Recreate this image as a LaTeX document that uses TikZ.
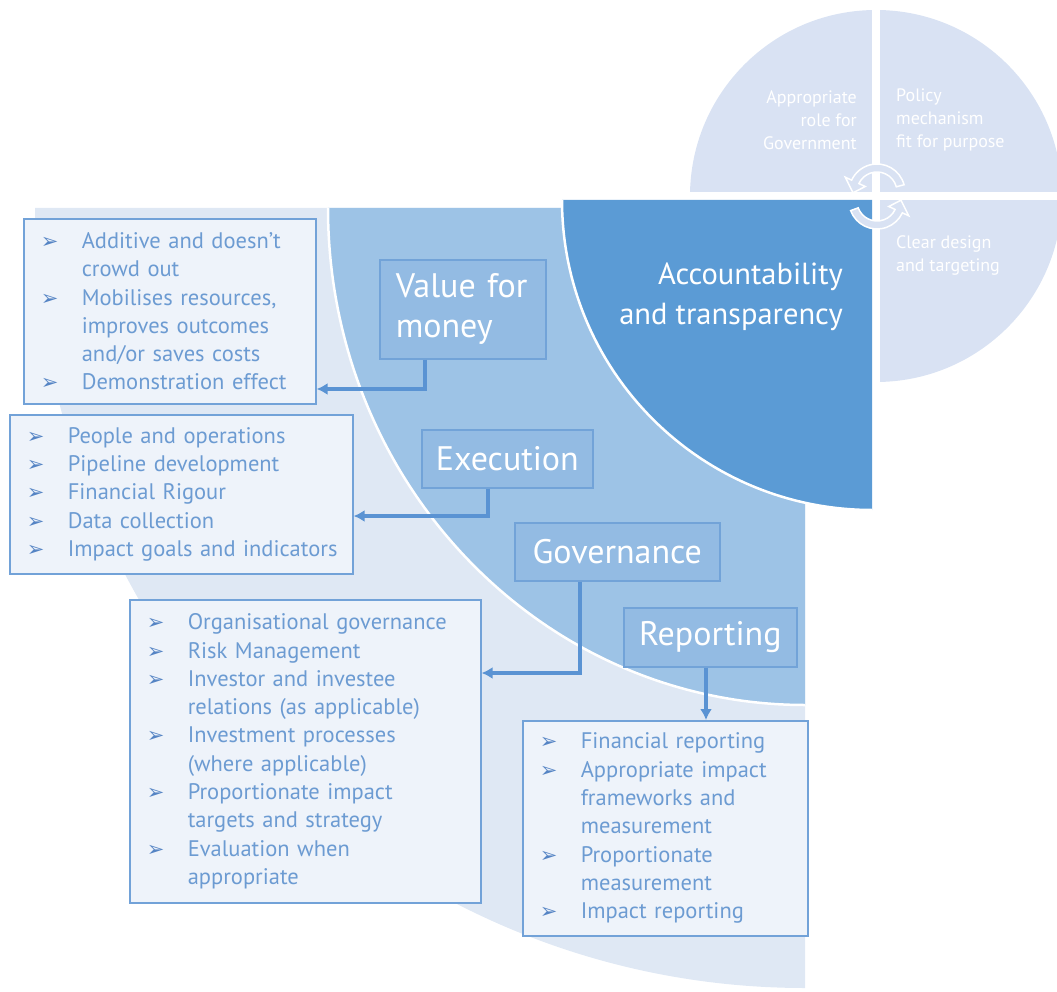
\documentclass[tikz,border=0pt]{standalone}
\usepackage{fontspec}
\setmainfont{PT Sans}
\newfontfamily\dejavu{DejaVu Sans}
\usetikzlibrary{arrows.meta,calc}
\definecolor{lightreg}{HTML}{DFE8F4}
\definecolor{midreg}{HTML}{9DC3E6}
\definecolor{darkreg}{HTML}{5B9BD5}
\definecolor{circ}{HTML}{D9E2F3}
\definecolor{listfill}{HTML}{EEF3FA}
\definecolor{boxline}{HTML}{72A2D8}
\definecolor{listtext}{HTML}{6C9BD2}
\definecolor{bulcol}{HTML}{5584C4}
\definecolor{labfill}{HTML}{93BBE3}
\definecolor{labline}{HTML}{72A3D8}
\definecolor{conncol}{HTML}{5A93D3}
\newcommand{\bul}{{\dejavu\color{bulcol}\fontsize{21}{21}\selectfont ➢}}
\newcommand{\bitem}[1]{\mbox{\makebox[41pt][l]{\bul}#1}}
\newcommand{\bcont}[1]{\mbox{\hspace*{41pt}#1}}
\begin{document}
\begin{tikzpicture}[x=1pt,y=-1pt,
  listbox/.style={draw=boxline, line width=1.6pt, fill=listfill, anchor=north west,
    inner xsep=17pt, inner ysep=0pt, align=left, text=listtext,
    font=\fontsize{22.5}{28.3}\selectfont},
  labbox/.style={draw=labline, line width=1.6pt, fill=labfill, anchor=north west,
    inner sep=0pt, align=center, text=white,
    font=\fontsize{34}{40}\selectfont},
  conn/.style={draw=conncol, line width=4pt, -{Latex[length=11pt,width=12pt]}},
  cyc/.style={fill=circ, draw=white, line width=1.5pt},
  circtext/.style={text=white, inner sep=0pt, font=\fontsize{18}{23}\selectfont}
]
\useasboundingbox (0,0) rectangle (1057,992);
% background regions
\fill[lightreg] (805,208) -- (35,208) arc[start angle=180,end angle=90,x radius=770,y radius=780] -- cycle;
\fill[midreg] (805,208) -- (328,208) arc[start angle=180,end angle=90,x radius=477,y radius=497] -- cycle;
\draw[white, line width=2.5pt] (328,208) arc[start angle=180,end angle=90,x radius=477,y radius=497];
% small circle
\fill[circ] (876,196) circle[radius=186];
\fill[white] (872,0) rectangle (880,390);
\fill[white] (680,192) rectangle (1057,200);
% dark quadrant
\fill[darkreg] (872,200) -- (562,200) arc[start angle=180,end angle=90,radius=310] -- cycle;
\draw[white, line width=2.5pt] (562,200) arc[start angle=180,end angle=90,radius=310];
% circular arrows
\coordinate (T) at (877,192);
\coordinate (B) at (877,201);
\path[cyc] ($(T)+(345:28)$) arc[start angle=345,end angle=205,radius=28]
  -- ($(T)+(205:35)$) -- ($(T)+(178:24)$) -- ($(T)+(205:13)$) -- ($(T)+(205:20)$)
  arc[start angle=205,end angle=345,radius=20] -- cycle;
\path[cyc] ($(B)+(160:28)$) arc[start angle=160,end angle=25,radius=28]
  -- ($(B)+(25:35)$) -- ($(B)+(358:24)$) -- ($(B)+(25:13)$) -- ($(B)+(25:20)$)
  arc[start angle=25,end angle=160,radius=20] -- cycle;
% circle texts
\node[circtext, align=right, anchor=east] (gov1) at (857,120) {Appropriate\\role for\\Government};
\node[circtext, align=left, anchor=west] (pol) at (896,120) {Policy\\mechanism\\fit for purpose};
\node[circtext, align=left, anchor=west] (clr) at (896,256) {Clear design\\and targeting};
% central title
\node[text=white, align=right, anchor=east, inner sep=0pt, font=\fontsize{30.5}{40}\selectfont] (acc) at (843,297) {Accountability\\and transparency};
% label boxes
\node[labbox, minimum width=166pt, minimum height=99pt, align=left, text width=134pt, inner xsep=16pt] (vfm) at (379,259) {Value for\\money};
\node[labbox, minimum width=171pt, minimum height=58pt] (exe) at (421,429) {Execution};
\node[labbox, minimum width=205pt, minimum height=58pt] (gov) at (514,522) {Governance};
\node[labbox, minimum width=173pt, minimum height=59pt] (rep) at (623,607) {Reporting};
% list boxes
\node[listbox, minimum width=292pt, minimum height=185pt, text width=258pt] (listA) at (23,218)
 {\bitem{Additive and doesn’t}\\\bcont{crowd out}\\\bitem{Mobilises resources,}\\\bcont{improves outcomes}\\\bcont{and/or saves costs}\\\bitem{Demonstration effect}};
\node[listbox, minimum width=343pt, minimum height=159pt, text width=309pt] (listB) at (9,414)
 {\bitem{People and operations}\\\bitem{Pipeline development}\\\bitem{Financial Rigour}\\\bitem{Data collection}\\\bitem{Impact goals and indicators}};
\node[listbox, minimum width=351pt, minimum height=303pt, text width=317pt] (listC) at (129,599)
 {\bitem{Organisational governance}\\\bitem{Risk Management}\\\bitem{Investor and investee}\\\bcont{relations (as applicable)}\\\bitem{Investment processes}\\\bcont{(where applicable)}\\\bitem{Proportionate impact}\\\bcont{targets and strategy}\\\bitem{Evaluation when}\\\bcont{appropriate}};
\node[listbox, minimum width=285pt, minimum height=215pt, text width=251pt] (listD) at (522,720)
 {\bitem{Financial reporting}\\\bitem{Appropriate impact}\\\bcont{frameworks and}\\\bcont{measurement}\\\bitem{Proportionate}\\\bcont{measurement}\\\bitem{Impact reporting}};
% connectors
\coordinate (vs) at ($(vfm.south west)+(46,0)$);
\coordinate (es) at ($(exe.south west)+(67,0)$);
\coordinate (gs) at ($(gov.south west)+(66,0)$);
\coordinate (rs) at ($(rep.south west)+(83,0)$);
\draw[conn] (vs) |- (listA.east |- 0,389);
\draw[conn] (es) |- (listB.east |- 0,516);
\draw[conn] (gs) |- (listC.east |- 0,673);
\draw[conn] (rs) -- (rs |- listD.north);
\end{tikzpicture}
\end{document}
